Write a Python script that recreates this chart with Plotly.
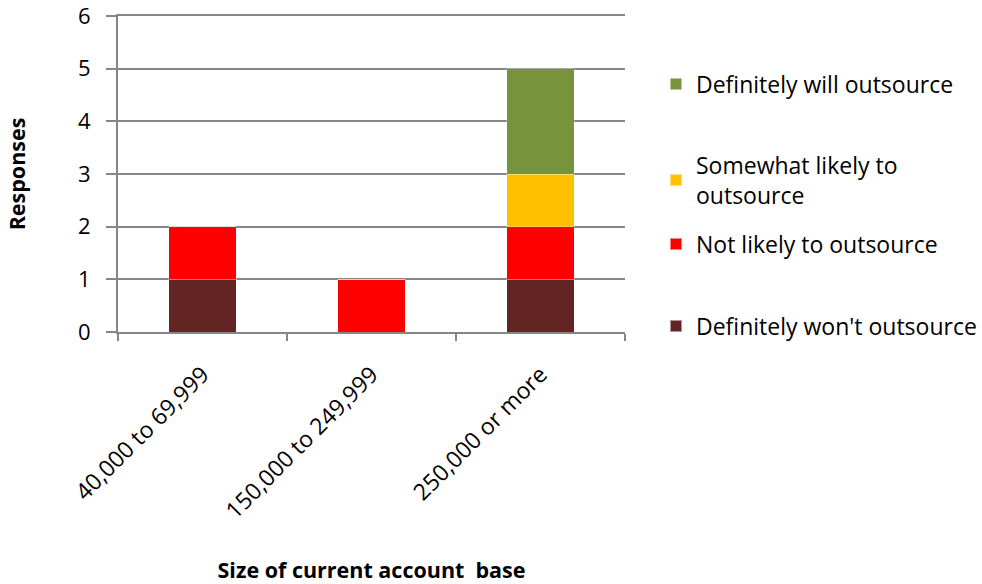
import plotly.graph_objects as go

categories = ["40,000 to 69,999", "150,000 to 249,999", "250,000 or more"]
definitely_wont = [1, 0, 1]
not_likely = [1, 1, 1]
somewhat_likely = [0, 0, 1]
definitely_will = [0, 0, 2]

series_names = [
    "Definitely won't outsource",
    "Not likely to outsource",
    "Somewhat likely to<br>outsource",
    "Definitely will outsource",
]
series_values = [definitely_wont, not_likely, somewhat_likely, definitely_will]
series_colors = ["#632523", "#FF0000", "#FFC000", "#77933C"]
legend_ids = ["legend4", "legend3", "legend2", "legend"]
legend_y = [326, 244, 180, 84]

FONT = "'Open Sans', Lato, sans-serif"
W, H = 982, 584

fig = go.Figure()
for name, vals, col, lid in zip(series_names, series_values, series_colors, legend_ids):
    fig.add_trace(go.Bar(
        x=categories, y=vals, name=name, legend=lid,
        marker=dict(color=col, line=dict(color="rgba(255,255,255,0.5)", width=0.5)),
    ))

legend_common = dict(
    font=dict(family=FONT, size=23, color="#000000"),
    bgcolor="rgba(0,0,0,0)", xanchor="left", yanchor="middle",
    itemwidth=30, itemsizing="constant",
)
legend_layout = {}
for lid, ly in zip(legend_ids, legend_y):
    legend_layout[lid] = dict(legend_common, x=656 / W, y=1 - ly / H,
                              xref="container", yref="container")

fig.update_layout(
    width=W, height=H,
    barmode="stack", bargap=0.6,
    plot_bgcolor="white", paper_bgcolor="white",
    margin=dict(l=118, r=357, t=16, b=252),
    font=dict(family=FONT, size=22, color="#000000"),
    showlegend=True,
    **legend_layout,
)

fig.update_xaxes(
    type="category", automargin=False,
    showline=True, linecolor="#868686", linewidth=2, mirror=True,
    ticks="outside", tickson="boundaries", ticklen=7, tickcolor="#868686", tickwidth=2,
    tickangle=-45, ticklabelshift=0, ticklabelstandoff=18,
    tickfont=dict(family=FONT, size=23),
    showgrid=False,
    title=dict(text="<b>Size of current account\u00a0\u00a0base</b>",
               font=dict(family=FONT, size=21.5), standoff=44),
)
fig.update_yaxes(
    range=[0, 6], dtick=1, automargin=False, ticklabeloverflow="allow",
    showline=True, linecolor="#868686", linewidth=2,
    ticks="outside", ticklen=10, tickcolor="#868686", tickwidth=2,
    ticklabelstandoff=11,
    showgrid=True, gridcolor="#868686", gridwidth=2,
    tickfont=dict(family=FONT, size=22),
    zeroline=False,
    title=dict(text="<b>Responses</b>", font=dict(family=FONT, size=21.5), standoff=46),
)

fig.write_html("out.html")
